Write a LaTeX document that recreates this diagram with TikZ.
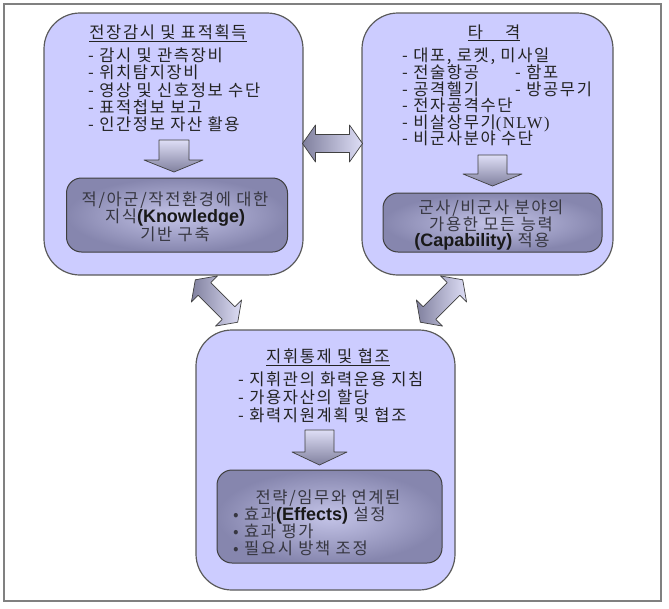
\documentclass[tikz,border=0pt]{standalone}
\usepackage{fontspec}
\setmainfont{Noto Sans CJK KR}[LetterSpace=10]
\newfontfamily\latinsans{Liberation Sans}
\newfontfamily\latinserif{Liberation Serif}[LetterSpace=10]
\definecolor{boxfill}{RGB}{204,204,255}
\definecolor{boxline}{RGB}{90,90,90}
\definecolor{innerlight}{RGB}{196,196,232}
\definecolor{innerdark}{RGB}{134,134,174}
\definecolor{txt}{RGB}{35,35,35}
\definecolor{intxt}{RGB}{55,55,65}
\definecolor{arrlight}{RGB}{222,222,246}
\definecolor{arrdark}{RGB}{128,128,158}
\definecolor{framegray}{RGB}{128,128,128}
\tikzset{
  bigbox/.style={draw=boxline, line width=1.2pt, fill=boxfill, rounded corners=36pt, inner sep=0pt},
  innerbox/.style={draw=boxline!70!black, line width=1pt, rounded corners=15pt, inner color=innerlight, outer color=innerdark, inner sep=0pt},
  lbl/.style={inner sep=0pt, text=txt, font=\fontsize{16.5}{19}\selectfont, text height=13pt, text depth=3pt},
  inlbl/.style={lbl, text=intxt},
  arrowshape/.style={draw=black!75, line width=0.7pt, line join=round},
  dblarrow/.pic={\shadedraw[arrowshape, left color=arrdark, right color=arrlight]
     (-30,0) -- (-17,18.5) -- (-17,9) -- (17,9) -- (17,18.5) -- (30,0)
     -- (17,-18.5) -- (17,-9) -- (-17,-9) -- (-17,-18.5) -- cycle;}
}
\newcommand\bl[1]{{\latinsans\bfseries\fontsize{18}{19}\selectfont\color{black!90}#1}}
\begin{document}
\begin{tikzpicture}[x=1pt,y=-1pt]
\useasboundingbox (0,0) rectangle (669,608);
\node[draw=framegray, line width=2pt, minimum width=657pt, minimum height=597pt, inner sep=0pt] (frame) at (332.5,302.5) {};

% big boxes
\node[bigbox, minimum width=259pt, minimum height=262pt] (L) at (173.5,144) {};
\node[bigbox, minimum width=251pt, minimum height=262pt] (R) at (487.5,144) {};
\node[bigbox, minimum width=259pt, minimum height=260pt] (B) at (325.5,460) {};

% inner boxes
\node[innerbox, minimum width=221pt, minimum height=74pt] (Li) at (177,215) {};
\node[innerbox, minimum width=219pt, minimum height=59pt] (Ri) at (492.5,222.5) {};
\node[innerbox, minimum width=225pt, minimum height=93pt] (Bi) at (329.5,516.5) {};

% left box text
\node[lbl] (Lt) at (168,33) {\underline{전장감시 및 표적획득}};
\node[lbl, anchor=west] (L1) at (88,56) {- 감시 및 관측장비};
\node[lbl, anchor=west] (L2) at (88,73.5) {- 위치탐지장비};
\node[lbl, anchor=west] (L3) at (88,91) {- 영상 및 신호정보 수단};
\node[lbl, anchor=west] (L4) at (88,108) {- 표적첩보 보고};
\node[lbl, anchor=west] (L5) at (88,125) {- 인간정보 자산 활용};
\node[inlbl] (Li1) at (175,200) {적/아군/작전환경에 대한};
\node[inlbl] (Li2) at (175,217) {지식\bl{(Knowledge)}};
\node[inlbl] (Li3) at (175,235) {기반 구축};

% right box text
\node[lbl] (Rt) at (494,33) {\underline{타\hspace{22pt}격}};
\node[lbl, anchor=west] (R1) at (402,56) {- 대포, 로켓, 미사일};
\node[lbl, anchor=west] (R2) at (402,73) {- 전술항공};
\node[lbl, anchor=west] (R2b) at (515,73) {- 함포};
\node[lbl, anchor=west] (R3) at (402,90) {- 공격헬기};
\node[lbl, anchor=west] (R3b) at (515,90) {- 방공무기};
\node[lbl, anchor=west] (R4) at (402,106.5) {- 전자공격수단};
\node[lbl, anchor=west] (R5) at (402,123) {- 비살상무기{\latinserif (NLW)}};
\node[lbl, anchor=west] (R6) at (402,139.5) {- 비군사분야 수단};
\node[inlbl] (Ri1) at (491,208) {군사/비군사 분야의};
\node[inlbl] (Ri2) at (491,225) {가용한 모든 능력};
\node[inlbl] (Ri3) at (482,241) {\bl{(Capability)} 적용};

% bottom box text
\node[lbl] (Bt) at (328,357) {\underline{지휘통제 및 협조}};
\node[lbl, anchor=west] (B1) at (238,380) {- 지휘관의 화력운용 지침};
\node[lbl, anchor=west] (B2) at (238,398) {- 가용자산의 할당};
\node[lbl, anchor=west] (B3) at (238,416) {- 화력지원계획 및 협조};
\node[inlbl] (Bi1) at (328,498) {전략/임무와 연계된};
\node[inlbl, anchor=west] (Bi2) at (233,515) {• 효과\bl{(Effects)} 설정};
\node[inlbl, anchor=west] (Bi3) at (233,532) {• 효과 평가};
\node[inlbl, anchor=west] (Bi4) at (233,549) {• 필요시 방책 조정};

% down block arrows
\shadedraw[arrowshape, top color=arrlight, bottom color=arrdark]
  (159,140) -- (189,140) -- (189,160) -- (203,160) -- (174,172) -- (144,160) -- (159,160) -- cycle;
\shadedraw[arrowshape, top color=arrlight, bottom color=arrdark]
  (478,155) -- (507,155) -- (507,174) -- (522,174) -- (492.5,186) -- (463,174) -- (478,174) -- cycle;
\shadedraw[arrowshape, top color=arrlight, bottom color=arrdark]
  (305,430) -- (334,430) -- (334,452) -- (347,452) -- (319.5,465) -- (292,452) -- (305,452) -- cycle;

% double block arrows between boxes
\pic (hArr) at (332.5,143.5) {dblarrow};
\pic[rotate=-45] (lArr) at (216.5,301) {dblarrow};
\pic[rotate=45] (rArr) at (441.5,301) {dblarrow};
\end{tikzpicture}
\end{document}
